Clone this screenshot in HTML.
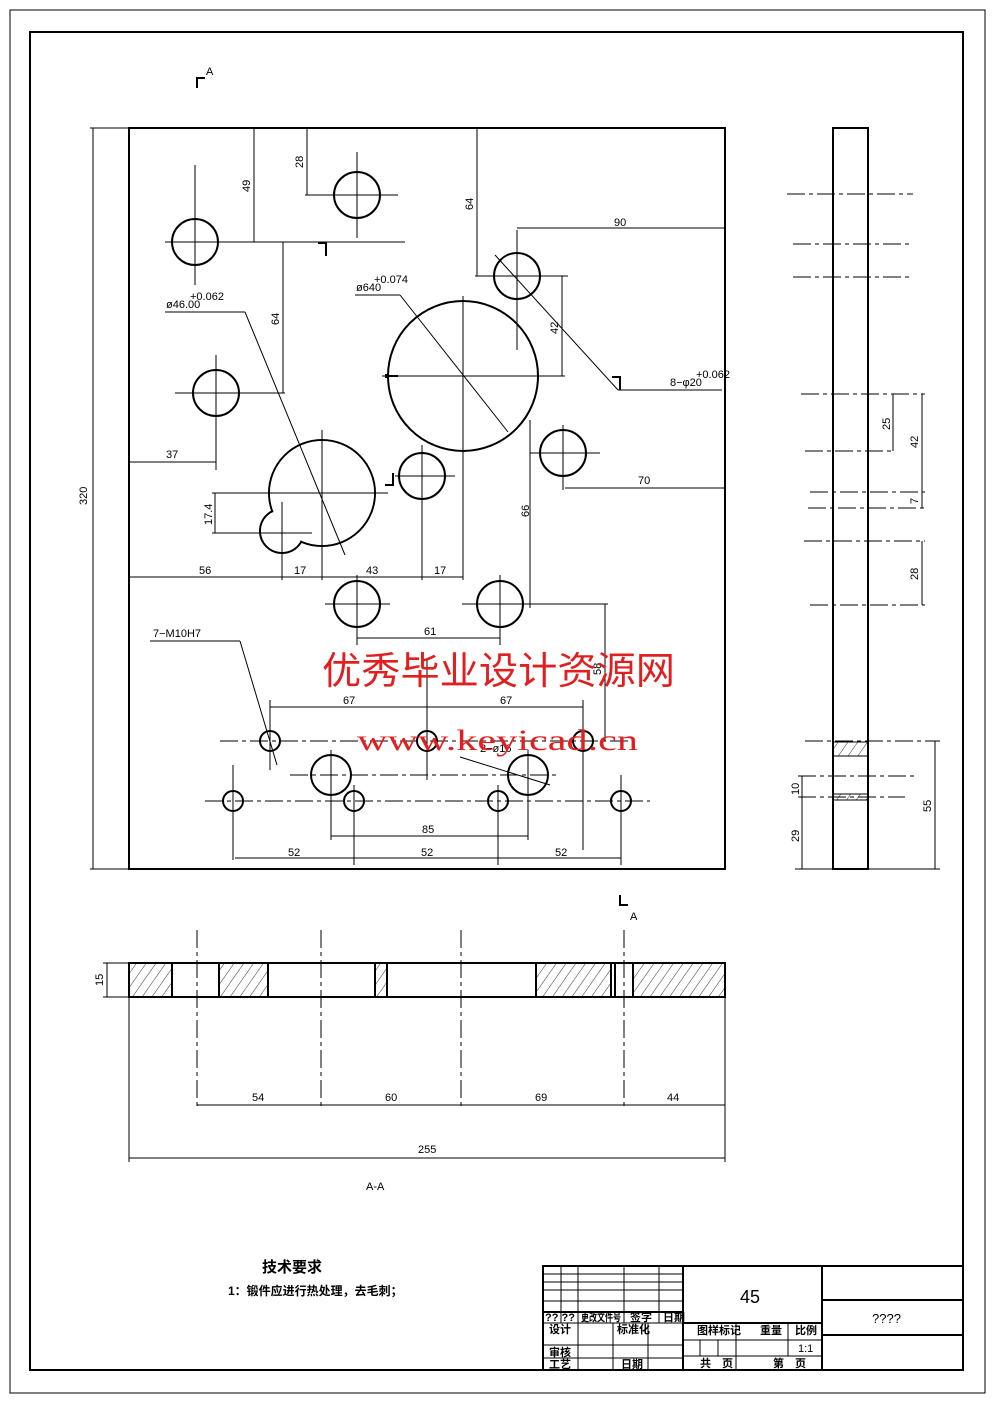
<!DOCTYPE html>
<html><head><meta charset="utf-8"><style>
body{margin:0;background:#fff}
svg{display:block}
text{font-family:"Liberation Sans","Noto Sans CJK SC",sans-serif;font-size:11px;fill:#000}
.t{stroke:#000;stroke-width:2;fill:none}
.n{stroke:#000;stroke-width:1;fill:none}
.c{stroke:#000;stroke-width:1;fill:none;stroke-dasharray:18 4 4 4}
.h{stroke:#000;stroke-width:2;fill:url(#hat)}
</style></head><body>
<svg width="992" height="1403" viewBox="0 0 992 1403" xmlns="http://www.w3.org/2000/svg">
<defs><pattern id="hat" width="8" height="8" patternUnits="userSpaceOnUse" patternTransform="rotate(35)"><line x1="0" y1="0" x2="0" y2="8" stroke="#000" stroke-width="0.8"/></pattern></defs>
<rect x="10" y="10" width="975" height="1383" class="n"/>
<rect x="30" y="32" width="933" height="1338" class="t"/>

<!-- main plate -->
<rect x="129" y="128" width="596" height="741" class="t"/>
<g class="t">
<circle cx="195" cy="242" r="23"/><circle cx="357" cy="195" r="23"/><circle cx="216" cy="393" r="23"/>
<circle cx="517" cy="276" r="23"/><circle cx="463" cy="376" r="75"/><circle cx="563" cy="453" r="23"/>
<circle cx="422" cy="476" r="23"/><circle cx="357" cy="604" r="23"/><circle cx="500" cy="604" r="23"/>
<circle cx="331" cy="775" r="20"/><circle cx="528" cy="775" r="20"/>
<circle cx="270" cy="741" r="10"/><circle cx="427" cy="741" r="10"/><circle cx="583" cy="741" r="10"/>
<circle cx="233" cy="801" r="10"/><circle cx="354" cy="801" r="10"/><circle cx="498" cy="801" r="10"/><circle cx="621" cy="801" r="10"/>
<circle cx="322" cy="493" r="53"/><circle cx="282" cy="531" r="22"/>
</g>
<circle cx="322" cy="493" r="52" fill="#fff"/><circle cx="282" cy="531" r="21" fill="#fff"/>
<g class="n">
<line x1="195" y1="165" x2="195" y2="285"/><line x1="165" y1="242" x2="405" y2="242"/>
<line x1="357" y1="152" x2="357" y2="238"/><line x1="305" y1="195" x2="398" y2="195"/>
<line x1="216" y1="355" x2="216" y2="470"/><line x1="175" y1="393" x2="285" y2="393"/>
<line x1="517" y1="230" x2="517" y2="350"/><line x1="475" y1="276" x2="568" y2="276"/>
<line x1="463" y1="296" x2="463" y2="580"/><line x1="382" y1="376" x2="565" y2="376"/>
<line x1="530" y1="420" x2="530" y2="608"/><line x1="530" y1="453" x2="600" y2="453"/><line x1="563" y1="425" x2="563" y2="490"/>
<line x1="422" y1="445" x2="422" y2="580"/><line x1="395" y1="476" x2="455" y2="476"/>
<line x1="322" y1="430" x2="322" y2="580"/><line x1="212" y1="493" x2="388" y2="493"/>
<line x1="282" y1="502" x2="282" y2="580"/><line x1="212" y1="533" x2="312" y2="533"/>
<line x1="357" y1="575" x2="357" y2="645"/><line x1="325" y1="604" x2="390" y2="604"/>
<line x1="500" y1="575" x2="500" y2="645"/><line x1="462" y1="604" x2="608" y2="604"/>
<line x1="331" y1="750" x2="331" y2="840"/><line x1="528" y1="750" x2="528" y2="840"/>
<line x1="270" y1="700" x2="270" y2="770"/><line x1="427" y1="660" x2="427" y2="780"/><line x1="583" y1="700" x2="583" y2="850"/>
<line x1="233" y1="765" x2="233" y2="860"/><line x1="354" y1="785" x2="354" y2="865"/><line x1="498" y1="785" x2="498" y2="865"/><line x1="621" y1="775" x2="621" y2="865"/>
<line x1="605" y1="604" x2="605" y2="741"/>
</g>
<line x1="220" y1="741" x2="630" y2="741" class="c"/>
<line x1="205" y1="801" x2="650" y2="801" class="c"/>
<line x1="290" y1="775" x2="560" y2="775" class="c"/>
<g class="n">
<line x1="93" y1="128" x2="93" y2="869"/><line x1="90" y1="128" x2="129" y2="128"/><line x1="90" y1="869" x2="129" y2="869"/>
<line x1="254" y1="128" x2="254" y2="242"/><line x1="307" y1="128" x2="307" y2="195"/>
<line x1="283" y1="242" x2="283" y2="393"/><line x1="477" y1="128" x2="477" y2="276"/>
<line x1="517" y1="228" x2="725" y2="228"/><line x1="562" y1="276" x2="562" y2="376"/>
<line x1="129" y1="462" x2="216" y2="462"/><line x1="565" y1="488" x2="725" y2="488"/>
<line x1="215" y1="493" x2="215" y2="533"/>
<line x1="129" y1="577" x2="463" y2="577"/><line x1="530" y1="453" x2="530" y2="604"/>
<line x1="357" y1="638" x2="500" y2="638"/>
<line x1="270" y1="707" x2="583" y2="707"/>
<line x1="331" y1="836" x2="528" y2="836"/>
<line x1="235" y1="858" x2="621" y2="858"/>
<line x1="165" y1="312" x2="245" y2="312"/><line x1="245" y1="312" x2="345" y2="555"/>
<line x1="355" y1="295" x2="400" y2="295"/><line x1="400" y1="295" x2="508" y2="432"/>
<line x1="495" y1="255" x2="618" y2="390"/><line x1="618" y1="390" x2="722" y2="390"/>
<line x1="150" y1="641" x2="240" y2="641"/><line x1="240" y1="641" x2="277" y2="765"/>
<line x1="460" y1="757" x2="550" y2="785"/>
</g>
<g class="t"><path d="M318 243h8v13"/><path d="M612 377h8v13"/><path d="M385 485h8v-12"/><path d="M386 378v-4M386 376h12"/></g>
<g>
<text x="87" y="505" transform="rotate(-90 87 505)">320</text>
<text x="250" y="192" transform="rotate(-90 250 192)">49</text>
<text x="303" y="168" transform="rotate(-90 303 168)">28</text>
<text x="279" y="325" transform="rotate(-90 279 325)">64</text>
<text x="473" y="210" transform="rotate(-90 473 210)">64</text>
<text x="558" y="334" transform="rotate(-90 558 334)">42</text>
<text x="212" y="525" transform="rotate(-90 212 525)">17.4</text>
<text x="529" y="517" transform="rotate(-90 529 517)">66</text>
<text x="601" y="675" transform="rotate(-90 601 675)">58</text>
<text x="614" y="226">90</text><text x="166" y="458">37</text><text x="638" y="484">70</text>
<text x="199" y="574">56</text><text x="294" y="574">17</text><text x="366" y="574">43</text><text x="434" y="574">17</text>
<text x="424" y="635">61</text><text x="343" y="704">67</text><text x="500" y="704">67</text>
<text x="422" y="833">85</text><text x="288" y="856">52</text><text x="421" y="856">52</text><text x="555" y="856">52</text>
<text x="166" y="308" font-size="10">ø46.00</text><text x="190" y="300" font-size="7">+0.062</text>
<text x="356" y="291" font-size="10">ø640</text><text x="374" y="283" font-size="7">+0.074</text>
<text x="670" y="386" font-size="10">8−φ20</text><text x="696" y="378" font-size="7">+0.062</text>
<text x="153" y="637" font-size="10">7−M10H7</text><text x="480" y="752" font-size="10">2−ø16</text>
</g>
<text x="206" y="75" font-size="7">A</text><path d="M197 88v-10h8" class="t"/>
<text x="630" y="920" font-size="7">A</text><path d="M620 895v10h8" class="t"/>

<!-- side view -->
<rect x="833" y="128" width="35" height="741" class="t"/>
<g class="c">
<line x1="787" y1="194" x2="913" y2="194"/><line x1="793" y1="244" x2="913" y2="244"/><line x1="793" y1="277" x2="913" y2="277"/>
<line x1="801" y1="394" x2="925" y2="394"/><line x1="805" y1="451" x2="895" y2="451"/><line x1="810" y1="492" x2="925" y2="492"/>
<line x1="808" y1="508" x2="925" y2="508"/><line x1="804" y1="541" x2="925" y2="541"/><line x1="810" y1="605" x2="925" y2="605"/>
<line x1="805" y1="741" x2="940" y2="741"/><line x1="798" y1="776" x2="915" y2="776"/><line x1="798" y1="797" x2="905" y2="797"/>
</g>
<rect x="833" y="742" width="35" height="14" fill="url(#hat)" stroke="#000"/>
<rect x="833" y="794" width="35" height="6" fill="url(#hat)" stroke="#000"/>
<g class="n"><line x1="893" y1="394" x2="893" y2="451"/><line x1="922" y1="394" x2="922" y2="492"/><line x1="922" y1="492" x2="922" y2="508"/><line x1="922" y1="541" x2="922" y2="605"/>
<line x1="935" y1="741" x2="935" y2="869"/><line x1="802" y1="776" x2="802" y2="869"/><line x1="795" y1="869" x2="940" y2="869"/></g>
<text x="890" y="430" transform="rotate(-90 890 430)">25</text>
<text x="918" y="448" transform="rotate(-90 918 448)">42</text>
<text x="918" y="504" transform="rotate(-90 918 504)">7</text>
<text x="918" y="580" transform="rotate(-90 918 580)">28</text>
<text x="931" y="812" transform="rotate(-90 931 812)">55</text>
<text x="799" y="795" transform="rotate(-90 799 795)">10</text>
<text x="799" y="842" transform="rotate(-90 799 842)">29</text>

<!-- section A-A -->
<rect x="129" y="963" width="596" height="34" class="t"/>
<rect x="129" y="963" width="43" height="34" class="h"/>
<rect x="219" y="963" width="49" height="34" class="h"/>
<rect x="375" y="963" width="12" height="34" class="h"/>
<rect x="536" y="963" width="75" height="34" class="h"/>
<rect x="633" y="963" width="92" height="34" class="h"/>
<line x1="615" y1="963" x2="615" y2="997" class="t"/>
<g class="c"><line x1="197" y1="930" x2="197" y2="1110"/><line x1="321" y1="930" x2="321" y2="1110"/><line x1="461" y1="930" x2="461" y2="1110"/><line x1="624" y1="930" x2="624" y2="1110"/></g>
<g class="n"><line x1="129" y1="997" x2="129" y2="1162"/><line x1="725" y1="997" x2="725" y2="1162"/>
<line x1="197" y1="1105" x2="725" y2="1105"/><line x1="129" y1="1158" x2="725" y2="1158"/>
<line x1="103" y1="963" x2="129" y2="963"/><line x1="103" y1="997" x2="129" y2="997"/><line x1="107" y1="963" x2="107" y2="997"/></g>
<text x="252" y="1101">54</text><text x="385" y="1101">60</text><text x="535" y="1101">69</text><text x="667" y="1101">44</text>
<text x="418" y="1153">255</text><text x="366" y="1190">A-A</text>
<text x="103" y="986" transform="rotate(-90 103 986)">15</text>

<!-- watermark -->
<text x="322" y="684" textLength="353" lengthAdjust="spacingAndGlyphs" style="font-size:38px;fill:#e02020">优秀毕业设计资源网</text>
<text x="357" y="750" textLength="281" lengthAdjust="spacingAndGlyphs" style="font-family:'Liberation Serif',serif;font-size:30px;fill:#e02020">www.keyicad.cn</text>

<text x="262" y="1272" style="font-size:15px;font-weight:bold">技术要求</text>
<text x="228" y="1295" style="font-size:12px;font-weight:bold">1：锻件应进行热处理，去毛刺；</text>

<!-- title block -->
<g class="n">
<rect x="543" y="1266" width="420" height="104" stroke-width="2"/>
<line x1="683" y1="1266" x2="683" y2="1370" stroke-width="2"/>
<line x1="822" y1="1266" x2="822" y2="1370" stroke-width="2"/>
<line x1="822" y1="1300" x2="963" y2="1300" stroke-width="2"/>
<line x1="822" y1="1335" x2="963" y2="1335" stroke-width="2"/>
<line x1="683" y1="1323" x2="822" y2="1323" stroke-width="2"/>
<line x1="683" y1="1340" x2="822" y2="1340"/><line x1="683" y1="1356" x2="822" y2="1356"/>
<line x1="736" y1="1323" x2="736" y2="1370"/><line x1="788" y1="1323" x2="788" y2="1356"/>
<line x1="700" y1="1340" x2="700" y2="1356"/><line x1="718" y1="1340" x2="718" y2="1356"/>
<line x1="543" y1="1274" x2="683" y2="1274"/><line x1="543" y1="1282" x2="683" y2="1282"/><line x1="543" y1="1290" x2="683" y2="1290"/><line x1="543" y1="1301" x2="683" y2="1301"/>
<line x1="543" y1="1312" x2="683" y2="1312" stroke-width="2"/>
<line x1="543" y1="1323" x2="683" y2="1323"/><line x1="543" y1="1345" x2="683" y2="1345"/><line x1="543" y1="1358" x2="683" y2="1358"/>
<line x1="561" y1="1266" x2="561" y2="1323"/><line x1="578" y1="1266" x2="578" y2="1370"/><line x1="624" y1="1266" x2="624" y2="1323"/><line x1="659" y1="1266" x2="659" y2="1323"/>
<line x1="613" y1="1323" x2="613" y2="1370"/><line x1="648" y1="1323" x2="648" y2="1370"/>
</g>
<text x="740" y="1303" style="font-size:18px">45</text>
<text x="872" y="1323" style="font-size:13px">????</text>
<g style="font-size:8px;font-weight:bold">
<text x="545" y="1321">?? ??</text><text x="581" y="1321" textLength="40" lengthAdjust="spacingAndGlyphs">更改文件号</text><text x="630" y="1321">签字</text><text x="663" y="1321">日期</text>
<text x="549" y="1333">设计</text><text x="617" y="1333">标准化</text>
<text x="549" y="1356">审核</text><text x="549" y="1368">工艺</text><text x="621" y="1368">日期</text>
<text x="697" y="1334">图样标记</text><text x="760" y="1334">重量</text><text x="795" y="1334">比例</text>
<text x="798" y="1352" style="font-weight:normal">1:1</text>
<text x="700" y="1367">共　页</text><text x="773" y="1367">第　页</text>
</g>
</svg>
</body></html>
